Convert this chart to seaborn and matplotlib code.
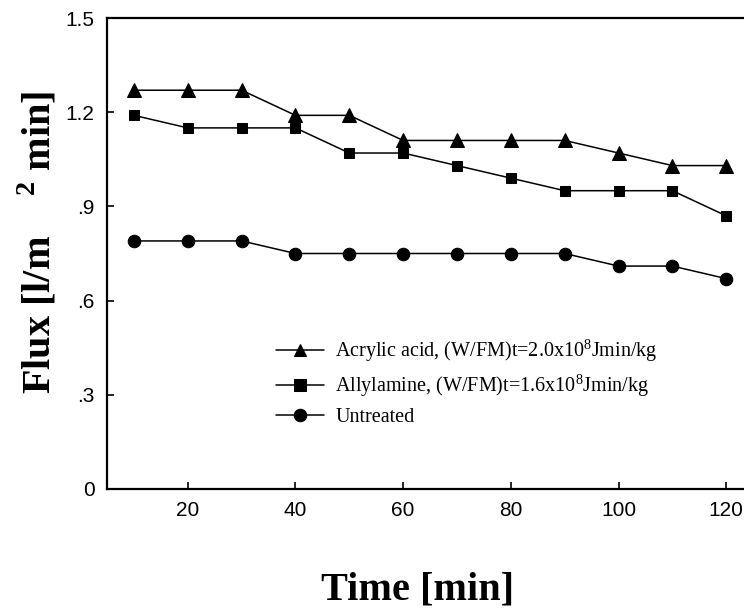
import pandas as pd
import seaborn as sns
import matplotlib.pyplot as plt
import numpy as np

# data
time_min = [10, 20, 30, 40, 50, 60, 70, 80, 90, 100, 110, 120]
acrylic = [1.27, 1.27, 1.27, 1.19, 1.19, 1.11, 1.11, 1.11, 1.11, 1.07, 1.03, 1.03]
allylamine = [1.19, 1.15, 1.15, 1.15, 1.07, 1.07, 1.03, 0.99, 0.95, 0.95, 0.95, 0.87]
untreated = [0.79, 0.79, 0.79, 0.75, 0.75, 0.75, 0.75, 0.75, 0.75, 0.71, 0.71, 0.67]

lab_acr = 'Acrylic acid, (W/FM)t=2.0x10$^{8}$Jmin/kg'
lab_all = 'Allylamine, (W/FM)t=1.6x10$^{8}$Jmin/kg'
lab_unt = 'Untreated'

df = pd.DataFrame({'Time': time_min, lab_acr: acrylic, lab_all: allylamine, lab_unt: untreated})
dfm = df.melt('Time', var_name='Sample', value_name='Flux')

sns.set_theme(style='ticks')
plt.rcParams['font.family'] = ['Liberation Sans', 'DejaVu Sans']
plt.rcParams['mathtext.fontset'] = 'custom'
plt.rcParams['mathtext.rm'] = 'Liberation Serif'
plt.rcParams['mathtext.bf'] = 'Liberation Serif:bold'
plt.rcParams['text.color'] = 'black'

fig = plt.figure(figsize=(7.44, 6.11), dpi=100)
ax = fig.add_axes([107 / 744, 1 - 489 / 611, 1 - 107 / 744, (489 - 18) / 611])

sns.lineplot(data=dfm, x='Time', y='Flux', hue='Sample', style='Sample',
             markers=['^', 's', 'o'], dashes=False,
             palette=['black', 'black', 'black'],
             markersize=9, linewidth=1.1, markeredgecolor='black', ax=ax)

# marker sizes differ by series
for line, ms in zip(ax.lines[:3], [10, 7, 9]):
    line.set_markersize(ms)

ax.set_xlim(5, 123.3)
ax.set_ylim(0, 1.5)
ax.set_xticks([20, 40, 60, 80, 100, 120])
ax.set_yticks([0, 0.3, 0.6, 0.9, 1.2, 1.5])
ax.set_yticklabels(['0', '.3', '.6', '.9', '1.2', '1.5'])
ax.tick_params(direction='in', length=5, width=1.2, labelsize=15, colors='black', pad=9)
ax.spines['right'].set_visible(False)
for s in ['left', 'bottom', 'top']:
    ax.spines[s].set_linewidth(1.6)
    ax.spines[s].set_color('black')
ax.set_xlabel('')
ax.set_ylabel('')

fig.text(418 / 744, 1 - 590 / 611, 'Time [min]', ha='center', va='center',
         fontsize=29, fontweight='bold', family='Liberation Serif', color='black')
fig.text(38 / 744, 1 - 242 / 611, r'Flux [l/m    $^{\mathbf{2}}$ min]', ha='center', va='center',
         rotation=90, fontsize=29, fontweight='bold', family='Liberation Serif', color='black')

handles, labels = ax.get_legend_handles_labels()
leg = ax.legend(handles[:3], labels[:3], frameon=False, loc='upper left',
                bbox_to_anchor=(276 / 744, 1 - 337 / 611), bbox_transform=fig.transFigure,
                prop={'family': 'Liberation Serif', 'size': 14.5},
                handlelength=2.4, handletextpad=0.55, labelspacing=0.42,
                borderpad=0, borderaxespad=0)

plt.savefig('out.png', dpi=100)
plt.close()
